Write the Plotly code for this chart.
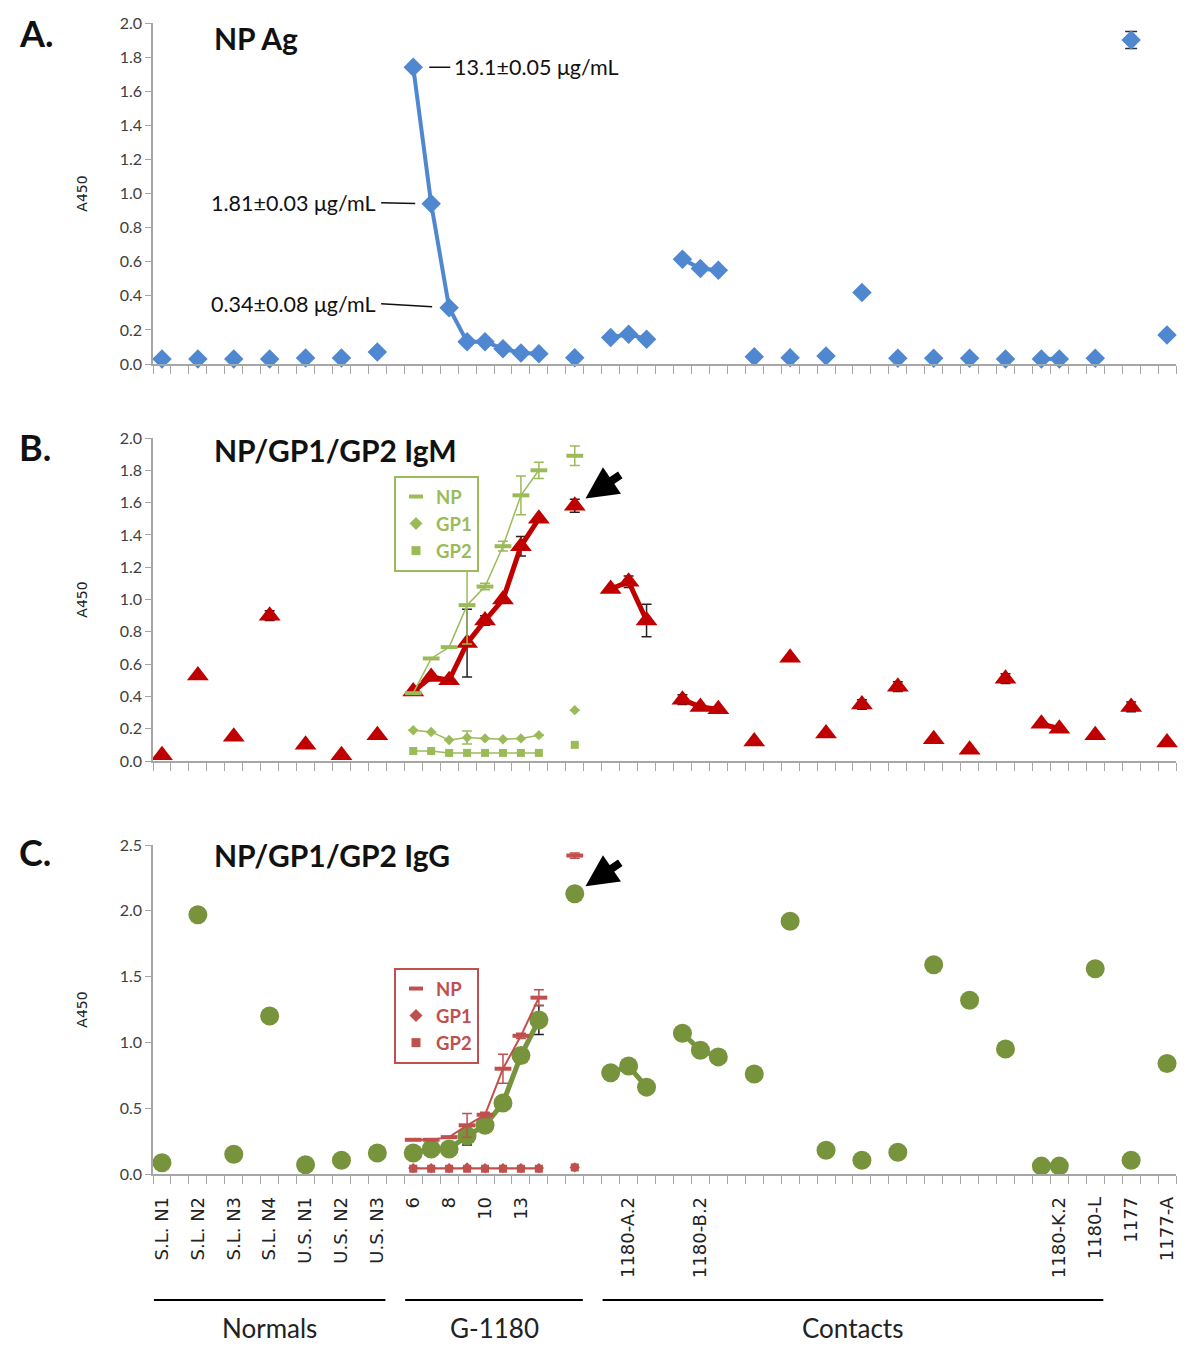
import plotly.graph_objects as go

N = None

# ---------------- categories (57 slots on the shared x axis) ----------------
tick_text = ["S.L. N1", "", "S.L. N2", "", "S.L. N3", "", "S.L. N4", "", "U.S. N1", "", "U.S. N2", "", "U.S. N3", "",
             "6", "", "8", "", "10", "", "13", "", "", "", "",
             "", "1180-A.2", "", "", "", "1180-B.2", "", "",
             "", "", "", "", "", "", "", "", "", "", "", "", "", "", "", "",
             "", "1180-K.2", "", "1180-L", "", "1177", "", "1177-A"]
slots = list(range(len(tick_text)))

groups = [("Normals", 0, 12), ("G-1180", 14, 23), ("Contacts", 25, 52)]

# ---------------- Panel A : NP antigen ----------------
np_ag = [0.03, N, 0.03, N, 0.03, N, 0.03, N, 0.035, N, 0.035, N, 0.07, N,
         1.74, 0.94, 0.33, 0.13, 0.13, 0.09, 0.065, 0.06, N, 0.037, N,
         0.155, 0.175, 0.145, N, 0.615, 0.56, 0.55, N, 0.043, N, 0.037, N, 0.047, N, 0.42, N,
         0.033, N, 0.033, N, 0.033, N, 0.03, N, 0.03, 0.03, N, 0.033, N, 1.90, N, 0.17]
np_ag_err = {54: 0.05}

# ---------------- Panel B : IgM ----------------
igm_total = [0.035, N, 0.53, N, 0.15, N, 0.90, N, 0.10, N, 0.035, N, 0.16, N,
             0.43, 0.52, 0.50, 0.73, 0.87, 1.00, 1.33, 1.50, N, 1.58, N,
             1.065, 1.11, 0.87, N, 0.38, 0.335, 0.32, N, 0.12, N, 0.64, N, 0.17, N, 0.35, N,
             0.46, N, 0.135, N, 0.07, N, 0.51, N, 0.23, 0.20, N, 0.16, N, 0.335, N, 0.115]
igm_total_err = {6: 0.03, 17: 0.21, 18: 0.03, 20: 0.06, 23: 0.04, 26: 0.035, 27: 0.10,
                 29: 0.03, 39: 0.03, 41: 0.03, 47: 0.03, 54: 0.03}
igm_np = [N] * 14 + [0.42, 0.635, 0.705, 0.965, 1.08, 1.33, 1.645, 1.80, N, 1.89] + [N] * 33
igm_np_err = {17: 0.24, 18: 0.02, 19: 0.03, 20: 0.12, 21: 0.05, 23: 0.06}
igm_gp1 = [N] * 14 + [0.19, 0.18, 0.13, 0.145, 0.14, 0.135, 0.14, 0.16, N, 0.315] + [N] * 33
igm_gp1_err = {17: 0.04}
igm_gp2 = [N] * 14 + [0.062, 0.062, 0.05, 0.05, 0.05, 0.05, 0.05, 0.05, N, 0.10] + [N] * 33

# ---------------- Panel C : IgG ----------------
igg_total = [0.085, N, 1.97, N, 0.15, N, 1.20, N, 0.07, N, 0.105, N, 0.16, N,
             0.16, 0.19, 0.19, 0.29, 0.37, 0.54, 0.90, 1.17, N, 2.13, N,
             0.77, 0.82, 0.66, N, 1.07, 0.94, 0.89, N, 0.76, N, 1.92, N, 0.18, N, 0.105, N,
             0.165, N, 1.59, N, 1.32, N, 0.95, N, 0.06, 0.06, N, 1.56, N, 0.105, N, 0.84]
igg_total_err = {17: 0.07, 21: 0.11, 23: 0.05, 31: 0.05, 52: 0.05}
igg_np = [N] * 14 + [0.26, 0.26, 0.28, 0.37, 0.45, 0.80, 1.05, 1.34, N, 2.42] + [N] * 33
igg_np_err = {17: 0.09, 18: 0.02, 19: 0.11, 20: 0.02, 21: 0.06, 23: 0.02}
igg_gp1 = [N] * 14 + [0.045, 0.045, 0.045, 0.05, 0.045, 0.045, 0.045, 0.045, N, 0.05] + [N] * 33
igg_gp2 = [N] * 14 + [0.04, 0.04, 0.04, 0.04, 0.04, 0.04, 0.04, 0.04, N, 0.05] + [N] * 33

# ---------------- styling ----------------
BLUE = "#4F88D0"
RED_DARK = "#C00000"
GREEN_LIGHT = "#9BBB59"
GREEN_OLIVE = "#77933C"
RED_SOFT = "#C0504D"
AXIS = "#A6A6A6"
CAL = "Lato, 'Open Sans', sans-serif"
VER = "'DejaVu Sans', Verdana, sans-serif"

W, H = 1200, 1363
OFF = 8  # the page body adds an 8px margin; place everything relative to the screen


def px_x(px):
    return (px - OFF) / W


def py(px):
    return 1 - (px - OFF) / H


X0, X1 = px_x(153), px_x(1176)


def err(d):
    return [d.get(i, 0) for i in slots]


def ebar(d, color, w=5, t=1.5):
    return dict(type="data", array=err(d), color=color, thickness=t, width=w, visible=True)


fig = go.Figure()

# Panel A
fig.add_trace(go.Scatter(x=slots, y=np_ag, mode="lines+markers", xaxis="x", yaxis="y",
                         line=dict(color=BLUE, width=4), connectgaps=False,
                         marker=dict(symbol="diamond", size=15, color=BLUE),
                         error_y=ebar(np_ag_err, "#333333", 6, 1.5),
                         cliponaxis=False, showlegend=False))

# Panel B
fig.add_trace(go.Scatter(x=slots, y=igm_total, mode="lines+markers", xaxis="x2", yaxis="y2",
                         line=dict(color=RED_DARK, width=5), connectgaps=False,
                         marker=dict(symbol="triangle-up", size=19, color=RED_DARK),
                         error_y=ebar(igm_total_err, "#222222", 5, 1.5),
                         cliponaxis=False, showlegend=False))
fig.add_trace(go.Scatter(x=slots, y=igm_np, mode="lines+markers", xaxis="x2", yaxis="y2",
                         line=dict(color=GREEN_LIGHT, width=1.5), connectgaps=False,
                         marker=dict(symbol="line-ew", size=12, color=GREEN_LIGHT,
                                     line=dict(color=GREEN_LIGHT, width=4)),
                         error_y=ebar(igm_np_err, GREEN_LIGHT, 5, 1.5),
                         cliponaxis=False, showlegend=False))
fig.add_trace(go.Scatter(x=slots, y=igm_gp1, mode="lines+markers", xaxis="x2", yaxis="y2",
                         line=dict(color=GREEN_LIGHT, width=1.5), connectgaps=False,
                         marker=dict(symbol="diamond", size=8, color=GREEN_LIGHT),
                         error_y=ebar(igm_gp1_err, GREEN_LIGHT, 5, 1.5),
                         cliponaxis=False, showlegend=False))
fig.add_trace(go.Scatter(x=slots, y=igm_gp2, mode="lines+markers", xaxis="x2", yaxis="y2",
                         line=dict(color=GREEN_LIGHT, width=1.5), connectgaps=False,
                         marker=dict(symbol="square", size=8, color=GREEN_LIGHT),
                         cliponaxis=False, showlegend=False))

# Panel C
fig.add_trace(go.Scatter(x=slots, y=igg_total, mode="lines+markers", xaxis="x3", yaxis="y3",
                         line=dict(color=GREEN_OLIVE, width=5), connectgaps=False,
                         marker=dict(symbol="circle", size=19, color=GREEN_OLIVE),
                         error_y=ebar(igg_total_err, "#222222", 5, 1.5),
                         cliponaxis=False, showlegend=False))
fig.add_trace(go.Scatter(x=slots, y=igg_np, mode="lines+markers", xaxis="x3", yaxis="y3",
                         line=dict(color=RED_SOFT, width=2), connectgaps=False,
                         marker=dict(symbol="line-ew", size=12, color=RED_SOFT,
                                     line=dict(color=RED_SOFT, width=4)),
                         error_y=ebar(igg_np_err, RED_SOFT, 5, 1.5),
                         cliponaxis=False, showlegend=False))
fig.add_trace(go.Scatter(x=slots, y=igg_gp1, mode="lines+markers", xaxis="x3", yaxis="y3",
                         line=dict(color=RED_SOFT, width=1.5), connectgaps=False,
                         marker=dict(symbol="diamond", size=8, color=RED_SOFT),
                         cliponaxis=False, showlegend=False))
fig.add_trace(go.Scatter(x=slots, y=igg_gp2, mode="lines+markers", xaxis="x3", yaxis="y3",
                         line=dict(color=RED_SOFT, width=1.5), connectgaps=False,
                         marker=dict(symbol="square", size=8, color=RED_SOFT),
                         cliponaxis=False, showlegend=False))

# Legend entries (marker-only keys, as in the figure)
for legend, color, xa, ya in (("legend", GREEN_LIGHT, "x2", "y2"), ("legend2", RED_SOFT, "x3", "y3")):
    for name, sym, size, lw in (("NP", "line-ew", 10, 4), ("GP1", "diamond", 10, 0), ("GP2", "square", 9, 0)):
        fig.add_trace(go.Scatter(x=[None], y=[None], mode="markers", name=name, legend=legend,
                                 xaxis=xa, yaxis=ya,
                                 marker=dict(symbol=sym, size=size, color=color,
                                             line=dict(color=color, width=lw))))

label_vals = [i for i, t in enumerate(tick_text) if t]
label_text = [t for t in tick_text if t]


def xax(anchor, show_labels):
    return dict(domain=[X0, X1], range=[-0.5, len(slots) - 0.5], anchor=anchor, automargin=False,
                showline=True, linecolor=AXIS, linewidth=1.5, showgrid=False, zeroline=False,
                tickmode="array", tickvals=label_vals, ticktext=label_text, ticks="",
                showticklabels=show_labels, tickangle=-90, ticklabelstandoff=14,
                tickfont=dict(family=VER, size=18, color="#222222"),
                minor=dict(tickmode="array", tickvals=[i - 0.5 for i in range(len(slots) + 1)],
                           ticks="outside", ticklen=8, tickcolor=AXIS, tickwidth=1.2, showgrid=False))


def yax(anchor, top_px, bottom_px, ymax, dtick):
    return dict(domain=[py(bottom_px), py(top_px)], range=[0, ymax], dtick=dtick, tick0=0,
                tickformat=".1f", anchor=anchor, automargin=False,
                showline=True, linecolor=AXIS, linewidth=1.5,
                ticks="outside", ticklen=6, tickcolor=AXIS, showgrid=False, zeroline=False,
                tickfont=dict(family=CAL, size=16, color="#404040"),
                title=dict(text="A450", font=dict(family=VER, size=14, color="#222222"), standoff=29))


annotations = []
# panel letters and titles
for letter, ypx in (("A.", 33), ("B.", 447), ("C.", 852)):
    annotations.append(dict(text=f"<b>{letter}</b>", x=px_x(17), y=py(ypx), xref="paper", yref="paper",
                            xanchor="left", yanchor="middle", showarrow=False,
                            font=dict(family=CAL, size=36, color="#111111")))
for title, ypx in (("NP Ag", 38), ("NP/GP1/GP2 IgM", 450), ("NP/GP1/GP2 IgG", 855)):
    annotations.append(dict(text=f"<b>{title}</b>", x=px_x(212), y=py(ypx), xref="paper", yref="paper",
                            xanchor="left", yanchor="middle", showarrow=False,
                            font=dict(family=CAL, size=30, color="#111111")))

# concentration call-outs in panel A
LBL = dict(family=CAL, size=21.5, color="#111111")
annotations.append(dict(text="13.1±0.05 μg/mL", x=14, y=np_ag[14], xref="x", yref="y",
                        ax=37, ay=0, xanchor="left", showarrow=True, arrowhead=0, arrowwidth=1.5,
                        arrowcolor="#111111", standoff=16, borderpad=3, font=LBL))
annotations.append(dict(text="1.81±0.03 μg/mL", x=15, y=np_ag[15], xref="x", yref="y",
                        ax=-50, ay=-1, xanchor="right", showarrow=True, arrowhead=0, arrowwidth=1.5,
                        arrowcolor="#111111", standoff=16, borderpad=4, font=LBL))
annotations.append(dict(text="0.34±0.08 μg/mL", x=16, y=np_ag[16], xref="x", yref="y",
                        ax=-68, ay=-4, xanchor="right", showarrow=True, arrowhead=0, arrowwidth=1.5,
                        arrowcolor="#111111", standoff=17, borderpad=4, font=LBL))

# black arrows pointing at the convalescent sample
for xa, ya, yv in (("x2", "y2", igm_total[23]), ("x3", "y3", igg_total[23])):
    annotations.append(dict(text="", x=23, y=yv, xref=xa, yref=ya, ax=47, ay=-32,
                            showarrow=True, arrowhead=2, arrowsize=0.8, arrowwidth=8,
                            arrowcolor="#000000", standoff=13))

# group labels below panel C
shapes = []
for name, first, last in groups:
    shapes.append(dict(type="line", xref="x3", yref="paper", x0=first - 0.45, x1=last + 0.45,
                       y0=py(1300), y1=py(1300), line=dict(color="#000000", width=2)))
    annotations.append(dict(text=name, x=(first + last) / 2, y=py(1328), xref="x3", yref="paper",
                            xanchor="center", yanchor="middle", showarrow=False,
                            font=dict(family=CAL, size=26, color="#222222")))

LEG = dict(xanchor="left", yanchor="top", borderwidth=2, bgcolor="white",
           tracegroupgap=0, itemsizing="trace")

fig.update_layout(
    width=W, height=H, margin=dict(l=0, r=0, t=0, b=0, autoexpand=False),
    paper_bgcolor="white", plot_bgcolor="white",
    xaxis=xax("y", False), yaxis=yax("x", 23, 364, 2.0, 0.2),
    xaxis2=xax("y2", False), yaxis2=yax("x2", 438, 761, 2.0, 0.2),
    xaxis3=xax("y3", True), yaxis3=yax("x3", 845, 1174, 2.5, 0.5),
    legend=dict(x=px_x(394), y=py(476), bordercolor=GREEN_LIGHT,
                font=dict(family=CAL, size=18.5, color=GREEN_LIGHT, weight="bold"), **LEG),
    legend2=dict(x=px_x(394), y=py(968), bordercolor=RED_SOFT,
                 font=dict(family=CAL, size=18.5, color=RED_SOFT, weight="bold"), **LEG),
    annotations=annotations, shapes=shapes,
)

fig.write_html("out.html")
